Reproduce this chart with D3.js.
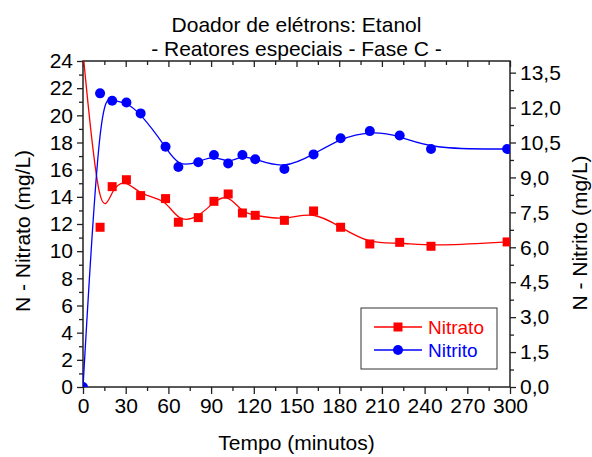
<!DOCTYPE html>
<html>
<head>
<meta charset="utf-8">
<script src="https://cdn.jsdelivr.net/npm/d3@7"></script>
<style>
  html, body { margin: 0; padding: 0; background: #fff; }
  svg { display: block; font-family: "Liberation Sans", Arial, sans-serif; }
</style>
</head>
<body>
<svg id="chart" width="592" height="457"></svg>
<script>
// Sampling times (minutes)
const tempo = [0, 12, 20.5, 30.5, 40.5, 58, 67, 81, 92, 102, 112, 121, 141.5, 162, 181, 201.5, 222.5, 244.5, 298];
// N-nitrate (mg/L), left axis
const nitrato = [24.6, 11.76, 14.75, 15.26, 14.09, 13.87, 12.13, 12.47, 13.67, 14.21, 12.81, 12.64, 12.27, 12.96, 11.76, 10.53, 10.65, 10.36, 10.68];
// N-nitrite (mg/L), right axis
const nitrito = [0, 12.61, 12.29, 12.22, 11.75, 10.32, 9.45, 9.65, 9.96, 9.6, 9.96, 9.78, 9.36, 9.99, 10.68, 10.99, 10.8, 10.22, 10.22];

const xTicks = d3.range(0, 301, 30);
const yLeftTicks = d3.range(0, 25, 2);
const yRightTicks = d3.range(0, 13.51, 1.5);

const titleLines = ["Doador de elétrons: Etanol", "- Reatores especiais - Fase C -"];
const xTitle = "Tempo (minutos)";
const yLeftTitle = "N - Nitrato (mg/L)";
const yRightTitle = "N - Nitrito (mg/L)";

const RED = "#ff0000", BLUE = "#0000ff", AXIS = "#222";
const plot = { left: 83, right: 510, top: 61, bottom: 387 };

const svg = d3.select("#chart");
const x = d3.scaleLinear().domain([0, 300]).range([plot.left, plot.right]);
const yL = d3.scaleLinear().domain([0, 24]).range([plot.bottom, plot.top]);
const yR = d3.scaleLinear().domain([0, 14]).range([plot.bottom, plot.top]);

const commaFmt = v => d3.format(".1f")(v).replace(".", ",");

svg.append("defs").append("clipPath").attr("id", "plotClip")
  .append("rect")
  .attr("x", plot.left).attr("y", plot.top)
  .attr("width", plot.right - plot.left).attr("height", plot.bottom - plot.top);

// Minor ticks
function minorAxis(axis, scale, values, size) {
  return axis(scale).tickValues(values).tickSize(size).tickFormat("");
}
const styleAxis = g => {
  g.selectAll("path.domain").remove();
  g.selectAll("line").attr("stroke", AXIS).attr("stroke-width", 1.3);
  g.selectAll("text").attr("fill", "#000").attr("font-size", 21);
};

// Bottom axis
svg.append("g").attr("transform", `translate(0,${plot.bottom})`)
  .call(minorAxis(d3.axisBottom, x, d3.range(15, 300, 30), 4)).call(styleAxis);
svg.append("g").attr("transform", `translate(0,${plot.bottom})`)
  .call(d3.axisBottom(x).tickValues(xTicks).tickSize(7).tickPadding(4).tickFormat(d3.format("d")))
  .call(styleAxis);

// Top mirror ticks (inward)
svg.append("g").attr("transform", `translate(0,${plot.top})`)
  .call(minorAxis(d3.axisBottom, x, d3.range(15, 300, 30), 4)).call(styleAxis);
svg.append("g").attr("transform", `translate(0,${plot.top})`)
  .call(d3.axisBottom(x).tickValues(xTicks).tickSize(6).tickFormat(""))
  .call(styleAxis);

// Left axis
svg.append("g").attr("transform", `translate(${plot.left},0)`)
  .call(minorAxis(d3.axisLeft, yL, d3.range(1, 24, 2), 4)).call(styleAxis);
svg.append("g").attr("transform", `translate(${plot.left},0)`)
  .call(d3.axisLeft(yL).tickValues(yLeftTicks).tickSize(6).tickPadding(4).tickFormat(d3.format("d")))
  .call(styleAxis);

// Right axis
svg.append("g").attr("transform", `translate(${plot.right},0)`)
  .call(minorAxis(d3.axisRight, yR, d3.range(0.75, 14, 1.5), 4)).call(styleAxis);
svg.append("g").attr("transform", `translate(${plot.right},0)`)
  .call(d3.axisRight(yR).tickValues(yRightTicks).tickSize(6).tickPadding(4).tickFormat(commaFmt))
  .call(styleAxis);

// Frame
svg.append("rect")
  .attr("x", plot.left).attr("y", plot.top)
  .attr("width", plot.right - plot.left).attr("height", plot.bottom - plot.top)
  .attr("fill", "none").attr("stroke", AXIS).attr("stroke-width", 1.5);

// B-spline trend lines through the samples
const layer = svg.append("g").attr("clip-path", "url(#plotClip)");

const lineL = d3.line().x(t => x(t)).y((t, i) => yL(nitrato[i])).curve(d3.curveBasis);
const lineR = d3.line().x(t => x(t)).y((t, i) => yR(nitrito[i])).curve(d3.curveBasis);

layer.append("path").attr("d", lineL(tempo))
  .attr("fill", "none").attr("stroke", RED).attr("stroke-width", 1.3);
layer.append("path").attr("d", lineR(tempo))
  .attr("fill", "none").attr("stroke", BLUE).attr("stroke-width", 1.3);

const SQ = 9;
layer.selectAll("rect.nitrato").data(tempo).join("rect").attr("class", "nitrato")
  .attr("x", (t) => x(t) - SQ / 2)
  .attr("y", (t, i) => yL(nitrato[i]) - SQ / 2)
  .attr("width", SQ).attr("height", SQ).attr("fill", RED);

layer.selectAll("circle.nitrito").data(tempo).join("circle").attr("class", "nitrito")
  .attr("cx", t => x(t))
  .attr("cy", (t, i) => yR(nitrito[i]))
  .attr("r", 5).attr("fill", BLUE);

// Titles
svg.append("text").attr("x", (plot.left + plot.right) / 2).attr("y", 32)
  .attr("text-anchor", "middle").attr("font-size", 21).text(titleLines[0]);
svg.append("text").attr("x", (plot.left + plot.right) / 2).attr("y", 56)
  .attr("text-anchor", "middle").attr("font-size", 21).text(titleLines[1]);

svg.append("text").attr("x", (plot.left + plot.right) / 2).attr("y", 450)
  .attr("text-anchor", "middle").attr("font-size", 21).text(xTitle);

svg.append("text")
  .attr("transform", `translate(30,231) rotate(-90)`)
  .attr("text-anchor", "middle").attr("font-size", 21).text(yLeftTitle);

svg.append("text")
  .attr("transform", `translate(587,233) rotate(-90)`)
  .attr("text-anchor", "middle").attr("font-size", 21).text(yRightTitle);

// Legend
const legend = svg.append("g").attr("transform", "translate(361,308)");
legend.append("rect").attr("width", 136).attr("height", 61)
  .attr("fill", "#fff").attr("stroke", "#333").attr("stroke-width", 1);
const items = [
  { name: "Nitrato", color: RED, shape: "square" },
  { name: "Nitrito", color: BLUE, shape: "circle" }
];
items.forEach((it, k) => {
  const cy = 19 + k * 23;
  const g = legend.append("g");
  g.append("line").attr("x1", 13).attr("x2", 61).attr("y1", cy).attr("y2", cy)
    .attr("stroke", it.color).attr("stroke-width", 1.3);
  if (it.shape === "square") {
    g.append("rect").attr("x", 37 - SQ / 2).attr("y", cy - SQ / 2)
      .attr("width", SQ).attr("height", SQ).attr("fill", it.color);
  } else {
    g.append("circle").attr("cx", 37).attr("cy", cy).attr("r", 5).attr("fill", it.color);
  }
  g.append("text").attr("x", 67).attr("y", cy).attr("dy", "0.35em")
    .attr("font-size", 19).attr("fill", it.color).text(it.name);
});
</script>
</body>
</html>
